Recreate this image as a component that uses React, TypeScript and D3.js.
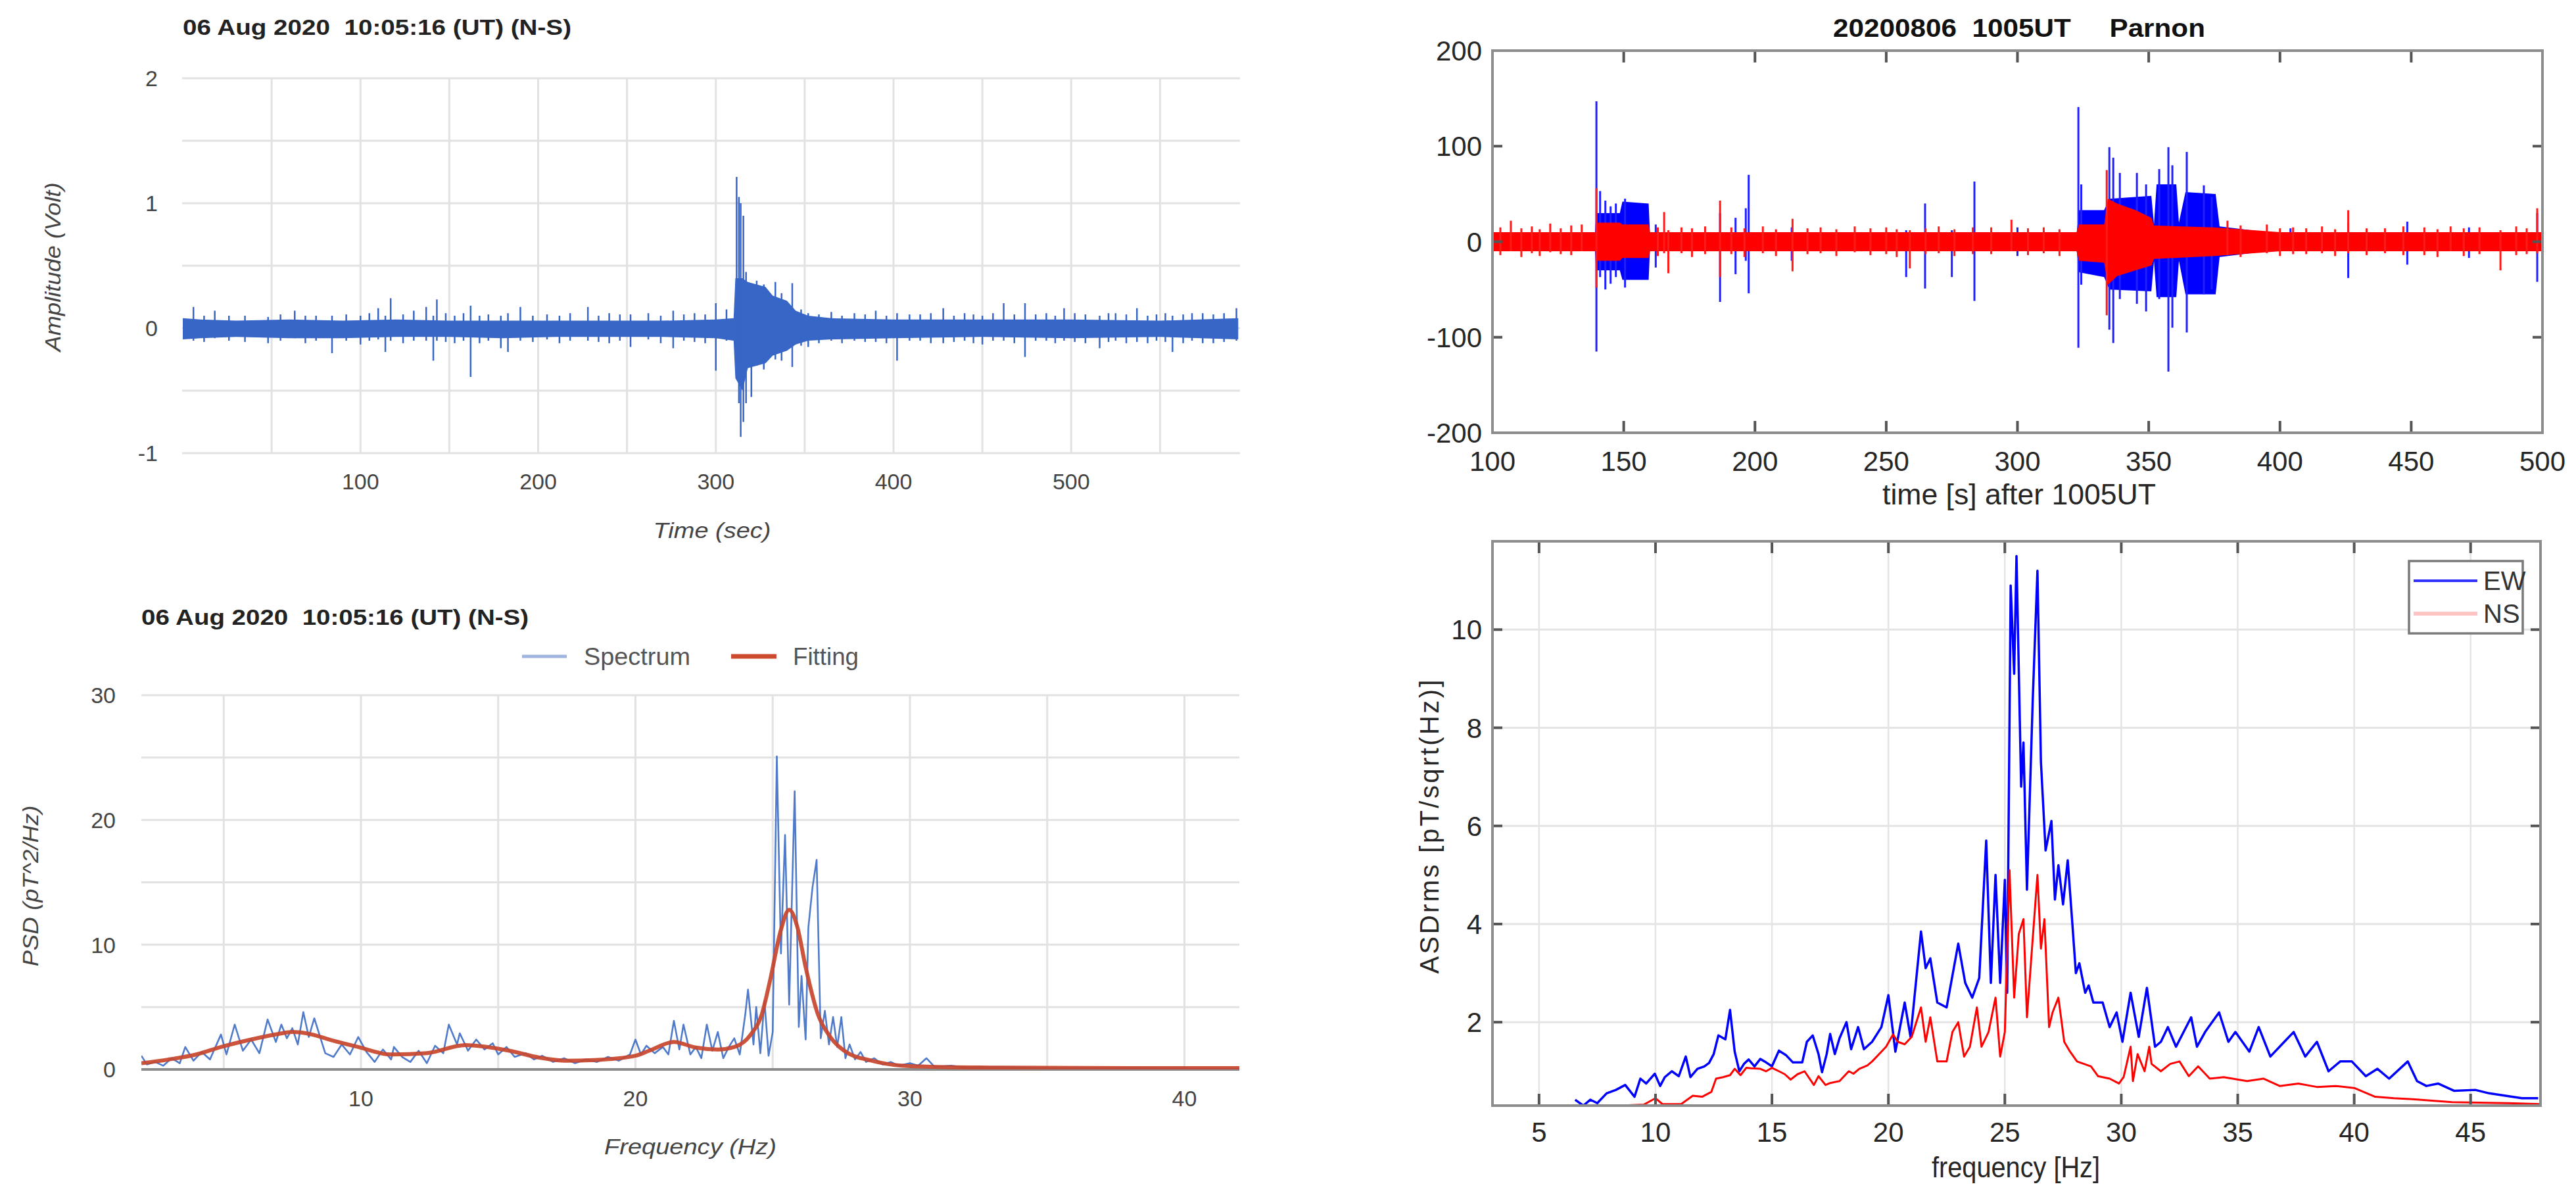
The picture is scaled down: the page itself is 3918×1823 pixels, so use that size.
import * as d3 from "d3";

// ---------- top left: N-S amplitude (Volt) ----------
// [t, hi, lo] envelope of the dense trace
const amplitudeBand: [number, number, number][] = [
  [0, 0.08, -0.09], [10, 0.07, -0.08], [30, 0.06, -0.07], [60, 0.07, -0.08], [90, 0.06, -0.08],
  [120, 0.07, -0.07], [150, 0.06, -0.07], [180, 0.06, -0.08], [210, 0.06, -0.07], [240, 0.06, -0.07],
  [270, 0.06, -0.07], [300, 0.07, -0.08], [310, 0.08, -0.1], [311, 0.4, -0.4], [315, 0.4, -0.5],
  [318, 0.37, -0.32], [328, 0.33, -0.28], [332, 0.26, -0.22], [340, 0.22, -0.18], [345, 0.14, -0.13],
  [352, 0.1, -0.1], [365, 0.08, -0.09], [400, 0.07, -0.08], [450, 0.07, -0.07], [500, 0.07, -0.08],
  [550, 0.06, -0.07], [594, 0.08, -0.09],
];
// [t, hi, lo] single excursions
const amplitudeSpikes: [number, number, number][] = [
  [6, 0.17, -0.1], [12, 0.1, -0.11], [18, 0.14, -0.08], [26, 0.1, -0.1], [35, 0.1, -0.11],
  [48, 0.09, -0.12], [55, 0.11, -0.1], [63, 0.14, -0.08], [69, 0.1, -0.12], [75, 0.1, -0.1],
  [84, 0.1, -0.2], [92, 0.11, -0.1], [100, 0.1, -0.13], [105, 0.12, -0.1], [110, 0.16, -0.09],
  [114, 0.1, -0.19], [117, 0.24, -0.1], [124, 0.11, -0.12], [130, 0.14, -0.1], [137, 0.17, -0.1],
  [141, 0.1, -0.26], [143, 0.23, -0.1], [148, 0.12, -0.11], [153, 0.1, -0.12], [158, 0.12, -0.1],
  [162, 0.18, -0.39], [167, 0.1, -0.12], [172, 0.11, -0.1], [179, 0.1, -0.16], [183, 0.12, -0.19],
  [190, 0.17, -0.1], [197, 0.1, -0.11], [205, 0.11, -0.09], [212, 0.1, -0.12], [218, 0.12, -0.1],
  [228, 0.17, -0.1], [234, 0.1, -0.11], [240, 0.12, -0.12], [246, 0.11, -0.1], [252, 0.11, -0.15],
  [262, 0.12, -0.09], [269, 0.1, -0.12], [276, 0.14, -0.16], [282, 0.11, -0.1], [288, 0.12, -0.11],
  [294, 0.11, -0.12], [300, 0.2, -0.34], [306, 0.15, -0.1], [311.7, 1.21, -0.3], [313, 1.05, -0.6],
  [314, 1.0, -0.87], [315.5, 0.9, -0.75], [317, 0.45, -0.6], [320, 0.3, -0.55], [323, 0.38, -0.3],
  [327, 0.35, -0.33], [333.5, 0.37, -0.25], [337, 0.28, -0.26], [343, 0.36, -0.31], [348, 0.15, -0.14],
  [352, 0.12, -0.15], [358, 0.11, -0.12], [365, 0.13, -0.1], [371, 0.1, -0.12], [378, 0.12, -0.1],
  [384, 0.11, -0.11], [390, 0.14, -0.11], [396, 0.1, -0.12], [402, 0.12, -0.26], [409, 0.11, -0.1],
  [415, 0.11, -0.1], [421, 0.12, -0.12], [428, 0.16, -0.12], [434, 0.1, -0.11], [440, 0.12, -0.1],
  [445, 0.11, -0.12], [450, 0.1, -0.13], [456, 0.12, -0.1], [462, 0.2, -0.1], [468, 0.11, -0.12],
  [474, 0.2, -0.23], [480, 0.11, -0.1], [486, 0.12, -0.1], [491, 0.1, -0.12], [496, 0.16, -0.1],
  [502, 0.12, -0.11], [508, 0.11, -0.12], [516, 0.1, -0.16], [521, 0.12, -0.11], [525, 0.12, -0.1],
  [531, 0.11, -0.12], [537, 0.16, -0.11], [543, 0.1, -0.12], [548, 0.11, -0.1], [553, 0.12, -0.11],
  [557, 0.1, -0.19], [563, 0.11, -0.12], [568, 0.12, -0.1], [574, 0.12, -0.12], [580, 0.11, -0.12],
  [586, 0.12, -0.11], [593, 0.16, -0.1],
];
const amplitudeYTicks = [-1, 0, 1, 2];
const amplitudeYGrid = [-1, -0.5, 0, 0.5, 1, 1.5, 2];
const amplitudeXTicks = [100, 200, 300, 400, 500];
const amplitudeXGrid = [50, 100, 150, 200, 250, 300, 350, 400, 450, 500, 550];

// ---------- bottom left: PSD spectrum + fitting ----------
const spectrum: [number, number][] = [
  [2.0, 1.1], [2.2, 0.4], [2.5, 0.6], [2.8, 0.3], [3.1, 0.9], [3.4, 0.5], [3.6, 1.8], [3.9, 0.7],
  [4.2, 1.4], [4.5, 0.8], [4.9, 2.8], [5.1, 1.2], [5.4, 3.6], [5.7, 1.5], [6.0, 2.4], [6.3, 1.3],
  [6.6, 4.0], [6.9, 2.2], [7.1, 3.6], [7.3, 2.5], [7.5, 3.3], [7.7, 2.0], [7.9, 4.6], [8.1, 2.6],
  [8.3, 4.1], [8.6, 2.0], [8.7, 1.3], [9.0, 1.0], [9.3, 2.0], [9.6, 1.2], [9.9, 2.6], [10.2, 1.4],
  [10.5, 0.6], [10.8, 1.6], [11.1, 0.8], [11.2, 1.8], [11.5, 1.0], [11.8, 0.6], [12.1, 1.5], [12.4, 0.5],
  [12.7, 1.9], [13.0, 1.3], [13.2, 3.6], [13.5, 2.0], [13.6, 2.9], [13.9, 1.5], [14.2, 2.4], [14.5, 1.6],
  [14.8, 2.1], [15.0, 1.2], [15.3, 1.8], [15.6, 1.0], [16.0, 1.3], [16.3, 0.8], [16.6, 1.1], [17.0, 0.6],
  [17.4, 0.9], [17.8, 0.5], [18.2, 0.8], [18.6, 0.6], [19.0, 1.0], [19.4, 0.7], [19.8, 1.2], [20.0, 2.4],
  [20.2, 1.2], [20.4, 1.9], [20.7, 1.3], [21.0, 1.8], [21.2, 1.2], [21.4, 3.9], [21.6, 1.6], [21.75, 3.6],
  [22.0, 1.2], [22.2, 1.8], [22.4, 0.9], [22.6, 3.6], [22.8, 1.5], [23.0, 3.0], [23.2, 0.9], [23.4, 1.8],
  [23.6, 2.5], [23.8, 1.2], [24.0, 4.4], [24.1, 6.4], [24.3, 2.0], [24.4, 5.0], [24.55, 1.3], [24.7, 5.5],
  [24.85, 1.1], [25.0, 3.0], [25.15, 25.1], [25.3, 9.3], [25.45, 18.8], [25.6, 5.2], [25.8, 22.3],
  [25.95, 3.4], [26.05, 7.5], [26.2, 2.4], [26.3, 11.4], [26.45, 14.6], [26.6, 16.8], [26.75, 2.5],
  [26.9, 4.7], [27.05, 2.0], [27.2, 4.2], [27.35, 1.8], [27.5, 4.2], [27.65, 0.9], [27.8, 2.0], [28.0, 0.8],
  [28.2, 1.4], [28.4, 0.6], [28.7, 0.9], [29.0, 0.4], [29.3, 0.6], [29.6, 0.3], [30.0, 0.5], [30.3, 0.3],
  [30.6, 0.9], [30.9, 0.2], [31.5, 0.3], [32, 0.15], [33, 0.2], [35, 0.1], [38, 0.1], [42, 0.05],
];
const fitting: [number, number][] = [
  [2, 0.5], [3, 0.8], [4, 1.2], [4.9, 1.8], [6, 2.4], [7, 2.85], [7.5, 3.0], [8, 2.9], [9, 2.3],
  [9.9, 1.8], [11.1, 1.2], [12.4, 1.3], [13.8, 1.95], [15.4, 1.5], [16.5, 0.95], [17.5, 0.7],
  [18.5, 0.75], [20.0, 1.1], [20.5, 1.5], [21.4, 2.2], [22.2, 1.75], [23.0, 1.6], [23.6, 1.8],
  [24.2, 2.8], [24.6, 4.4], [24.9, 7.1], [25.3, 11.2], [25.6, 12.8], [25.9, 11.4], [26.2, 8.2],
  [26.65, 4.4], [27.1, 2.6], [27.6, 1.5], [28.6, 0.7], [29.7, 0.3], [31, 0.2], [33, 0.15], [38, 0.1],
  [42, 0.1],
];
const psdYTicks = [0, 10, 20, 30];
const psdYGrid = [0, 5, 10, 15, 20, 25, 30];
const psdXTicks = [10, 20, 30, 40];
const psdXGrid = [5, 10, 15, 20, 25, 30, 35, 40];

// ---------- top right: Parnon EW / NS time series ----------
const ewBand: [number, number, number][] = [
  [100, 8, -8], [139, 8, -8], [139.5, 30, -30], [148.5, 30, -30], [149.5, 42, -40], [159.5, 40, -40],
  [160, 8, -8], [322.5, 8, -8], [323.5, 33, -32], [333, 33, -37], [335, 45, -50], [351, 48, -52],
  [352, 18, -20], [353, 60, -58], [360.5, 60, -58], [361.5, 20, -20], [364, 52, -55], [375.5, 50, -55],
  [377, 16, -16], [392, 11, -11], [400, 8, -8], [500, 8, -8],
];
const ewSpikes: [number, number, number][] = [
  [139.6, 147, -115], [141, 53, -37], [143, 43, -50], [145, 37, -44], [147, 40, -37], [150.5, 45, -48],
  [162.2, 18, -27], [186.7, 30, -63], [192.6, 25, -34], [196.5, 35, -20], [197.6, 70, -54],
  [214, 15, -20], [257.6, 12, -37], [264.8, 40, -49], [275, 12, -37], [283.6, 63, -62], [300, 15, -15],
  [323.2, 141, -111], [324.3, 60, -45], [335, 99, -92], [336.5, 88, -106], [339, 72, -60],
  [345.5, 72, -65], [349, 60, -73], [354, 76, -60], [357.5, 99, -136], [359, 80, -90],
  [364.5, 94, -95], [371, 59, -55], [374, 47, -50], [404, 14, -10], [426, 20, -38], [448.5, 21, -24],
  [472, 15, -17], [498, 30, -42],
];
const nsBand: [number, number, number][] = [
  [100, 10, -10], [139.5, 10, -10], [140, 20, -20], [148.5, 20, -20], [149.5, 18, -17], [159.5, 18, -17],
  [160, 10, -10], [322.5, 10, -10], [323.5, 18, -20], [333, 18, -22], [334.5, 45, -45], [338, 40, -36],
  [345, 33, -30], [351, 25, -25], [352, 17, -18], [375, 15, -15], [390, 12, -12], [400, 10, -10],
  [500, 10, -10],
];
const nsSpikes: [number, number, number][] = [
  [103, 15, -14], [107, 22, -10], [111, 14, -16], [115, 16, -12], [118, 13, -15], [122, 19, -11],
  [126, 14, -13], [130, 17, -14], [134, 18, -10], [139.6, 56, -48], [163, 15, -15], [165.4, 31, -12],
  [167, 12, -33], [172, 15, -12], [176, 14, -16], [181, 16, -13], [186.7, 43, -37], [191, 15, -13],
  [196, 14, -16], [203, 16, -12], [208, 13, -15], [214.3, 24, -31], [220, 14, -13], [225, 15, -12],
  [231, 13, -15], [238, 16, -11], [244, 14, -14], [250, 15, -13], [254, 13, -16], [259, 12, -28],
  [265, 14, -13], [270, 16, -12], [276, 13, -15], [283, 15, -13], [290, 15, -13], [297.7, 23, -10],
  [304, 14, -14], [310, 15, -12], [316, 13, -15], [334, 75, -77], [380, 22, -14], [385, 17, -16],
  [395, 18, -12], [400, 14, -15], [405, 15, -13], [410, 14, -13], [416, 16, -12], [421, 13, -15],
  [426, 33, -12], [433, 14, -14], [440, 14, -12], [447, 16, -14], [455, 15, -14], [460, 13, -16],
  [465, 16, -10], [470, 14, -15], [476, 15, -13], [484, 12, -30], [490, 16, -14], [494, 14, -13],
  [498, 35, -12],
];
const parnonXTicks = [100, 150, 200, 250, 300, 350, 400, 450, 500];
const parnonYTicks = [-200, -100, 0, 100, 200];

// ---------- bottom right: ASDrms EW / NS ----------
const asdEW: [number, number][] = [
  [6.55, 0.42], [6.9, 0.3], [7.2, 0.42], [7.5, 0.35], [7.9, 0.55], [8.3, 0.62], [8.7, 0.72], [9.1, 0.48],
  [9.35, 0.85], [9.6, 0.75], [9.97, 0.95], [10.2, 0.7], [10.4, 0.88], [10.7, 1.0], [11.0, 0.9],
  [11.3, 1.3], [11.5, 0.88], [11.8, 1.05], [12.1, 1.1], [12.3, 1.17], [12.5, 1.35], [12.7, 1.73],
  [13.0, 1.65], [13.2, 2.25], [13.4, 1.4], [13.6, 1.0], [13.8, 1.15], [14.0, 1.24], [14.25, 1.1],
  [14.5, 1.25], [14.75, 1.18], [15.0, 1.1], [15.3, 1.42], [15.6, 1.33], [15.9, 1.18], [16.3, 1.18],
  [16.5, 1.6], [16.75, 1.73], [17.0, 1.35], [17.15, 0.98], [17.35, 1.35], [17.5, 1.76], [17.7, 1.35],
  [17.9, 1.67], [18.2, 2.0], [18.4, 1.45], [18.7, 1.9], [18.95, 1.45], [19.3, 1.6], [19.7, 1.9],
  [20.0, 2.55], [20.3, 1.4], [20.7, 2.4], [20.95, 1.7], [21.4, 3.85], [21.6, 3.1], [21.8, 3.3],
  [22.1, 2.4], [22.5, 2.3], [23.0, 3.6], [23.3, 2.8], [23.6, 2.5], [23.9, 2.9], [24.2, 5.7], [24.4, 2.8],
  [24.6, 5.0], [24.8, 2.8], [25.0, 4.9], [25.1, 2.6], [25.25, 10.9], [25.4, 9.1], [25.5, 11.5],
  [25.7, 6.8], [25.8, 7.7], [25.95, 4.7], [26.2, 8.6], [26.4, 11.2], [26.55, 7.3], [26.75, 5.5],
  [27.0, 6.1], [27.15, 4.5], [27.3, 5.2], [27.5, 4.4], [27.7, 5.3], [27.9, 4.0], [28.05, 3.0],
  [28.2, 3.2], [28.45, 2.6], [28.6, 2.75], [28.8, 2.4], [29.2, 2.4], [29.5, 1.9], [29.8, 2.2],
  [30.05, 1.6], [30.4, 2.6], [30.75, 1.7], [31.1, 2.7], [31.45, 1.5], [31.7, 1.6], [32.0, 1.9],
  [32.35, 1.5], [33.0, 2.1], [33.25, 1.5], [33.6, 1.8], [34.2, 2.2], [34.6, 1.6], [34.9, 1.8],
  [35.5, 1.4], [35.9, 1.9], [36.4, 1.3], [37.0, 1.6], [37.4, 1.8], [37.9, 1.3], [38.4, 1.6],
  [38.9, 1.0], [39.4, 1.2], [39.9, 1.2], [40.5, 0.9], [41.0, 1.05], [41.5, 0.85], [42.3, 1.2],
  [42.7, 0.8], [43.1, 0.7], [43.6, 0.75], [44.3, 0.6], [45.2, 0.62], [45.8, 0.55], [46.5, 0.5],
  [47.2, 0.45], [47.9, 0.45],
];
const asdNS: [number, number][] = [
  [7.5, 0.3], [8.5, 0.3], [9.5, 0.32], [10.0, 0.45], [10.3, 0.33], [11.1, 0.33], [11.6, 0.5],
  [12.0, 0.48], [12.4, 0.58], [12.6, 0.85], [12.9, 0.88], [13.2, 0.92], [13.4, 1.05], [13.65, 0.92],
  [13.9, 1.07], [14.1, 1.06], [14.5, 1.05], [14.75, 1.0], [15.0, 1.07], [15.3, 1.0], [15.55, 0.94],
  [15.8, 0.83], [16.1, 0.94], [16.4, 1.0], [16.8, 0.72], [17.0, 0.9], [17.3, 0.72], [17.5, 0.76],
  [17.9, 0.8], [18.3, 1.0], [18.5, 0.95], [18.75, 1.05], [19.1, 1.12], [19.3, 1.2], [19.6, 1.35],
  [19.9, 1.5], [20.2, 1.75], [20.4, 1.6], [20.7, 1.55], [21.0, 1.7], [21.4, 2.3], [21.6, 1.6],
  [21.8, 2.1], [22.1, 1.2], [22.5, 1.2], [22.75, 1.8], [23.0, 2.0], [23.25, 1.3], [23.5, 1.5],
  [23.8, 2.3], [24.0, 1.5], [24.3, 1.8], [24.6, 2.5], [24.8, 1.3], [25.0, 1.8], [25.2, 5.1], [25.4, 2.5],
  [25.6, 3.8], [25.8, 4.1], [25.95, 2.1], [26.15, 3.4], [26.4, 5.0], [26.55, 3.5], [26.7, 4.1],
  [26.9, 1.9], [27.05, 2.2], [27.3, 2.5], [27.55, 1.6], [27.8, 1.4], [28.1, 1.2], [28.7, 1.1],
  [29.0, 0.9], [29.5, 0.85], [29.9, 0.75], [30.1, 0.88], [30.4, 1.5], [30.5, 0.8], [30.7, 1.35],
  [31.0, 1.0], [31.2, 1.5], [31.3, 1.15], [31.7, 1.0], [32.1, 1.15], [32.5, 1.2], [32.9, 0.9],
  [33.3, 1.1], [33.8, 0.85], [34.4, 0.88], [35.4, 0.8], [36.1, 0.85], [36.8, 0.7], [37.6, 0.75],
  [38.4, 0.68], [39.2, 0.7], [40.0, 0.66], [40.9, 0.48], [41.7, 0.45], [42.5, 0.43], [44.2, 0.37],
  [46.6, 0.35], [48, 0.33],
];
const asdXTicks = [5, 10, 15, 20, 25, 30, 35, 40, 45];
const asdYTicks = [2, 4, 6, 8, 10];

const gFont = "'Liberation Sans', Arial, sans-serif";
const mFont = "'Liberation Sans Narrow', 'Liberation Sans', Arial, sans-serif";
const pre = { whiteSpace: "pre" as const };

export default function App() {
  // scales
  const ampX = d3.scaleLinear().domain([0, 595]).range([278, 1886]);
  const ampY = d3.scaleLinear().domain([-1, 2]).range([689, 119]);
  const psdX = d3.scaleLinear().domain([2, 42]).range([215, 1885]);
  const psdY = d3.scaleLinear().domain([0, 30]).range([1626, 1057]);
  const parX = d3.scaleLinear().domain([100, 500]).range([2270, 3867]);
  const parY = d3.scaleLinear().domain([-200, 200]).range([658, 77]);
  const asdX = d3.scaleLinear().domain([3, 48]).range([2270, 3864]);
  const asdY = d3.scaleLinear().domain([0.3, 11.8]).range([1681, 823]);

  const band = (x: d3.ScaleLinear<number, number>, y: d3.ScaleLinear<number, number>) =>
    d3.area<[number, number, number]>().x(d => x(d[0])).y0(d => y(d[2])).y1(d => y(d[1]));
  const line = (x: d3.ScaleLinear<number, number>, y: d3.ScaleLinear<number, number>, curve = d3.curveLinear) =>
    d3.line<[number, number]>().x(d => x(d[0])).y(d => y(d[1])).curve(curve);

  const spikes = (data: [number, number, number][], x: any, y: any, color: string, w: number) =>
    data.map((d, i) => (
      <line key={i} x1={x(d[0])} x2={x(d[0])} y1={y(d[2])} y2={y(d[1])} stroke={color} strokeWidth={w} />
    ));

  const [ax0, ax1] = ampX.range();
  const [py0, py1] = psdY.range();
  const [px0, px1] = psdX.range();

  return (
    <svg width={3918} height={1823} style={{ position: "absolute", left: 0, top: 0, background: "#fff" }}>
      <defs>
        <clipPath id="clipPar"><rect x={2270} y={77} width={1597} height={581} /></clipPath>
        <clipPath id="clipAsd"><rect x={2270} y={823} width={1594} height={858} /></clipPath>
        <clipPath id="clipPsd"><rect x={215} y={1040} width={1670} height={586} /></clipPath>
      </defs>

      {/* ===== top left ===== */}
      <text x={278} y={53} fontFamily={gFont} fontWeight="bold" fontSize={34} fill="#222" style={pre}
        textLength={591} lengthAdjust="spacingAndGlyphs">06 Aug 2020  10:05:16 (UT) (N-S)</text>
      {amplitudeYGrid.map(v => (
        <line key={v} x1={ax0 - 1} x2={ax1} y1={ampY(v)} y2={ampY(v)} stroke="#e2e2e2" strokeWidth={3} />
      ))}
      {amplitudeXGrid.map(v => (
        <line key={v} x1={ampX(v)} x2={ampX(v)} y1={ampY(2)} y2={ampY(-1)} stroke="#e2e2e2" strokeWidth={3} />
      ))}
      <path d={band(ampX, ampY)(amplitudeBand) || ""} fill="#3766c6" />
      {spikes(amplitudeSpikes, ampX, ampY, "#3766c6", 2.5)}
      {amplitudeYTicks.map(v => (
        <text key={v} x={240} y={ampY(v)} dy="0.36em" textAnchor="end" fontFamily={gFont} fontSize={34} fill="#444">{v}</text>
      ))}
      {amplitudeXTicks.map(v => (
        <text key={v} x={ampX(v)} y={744} textAnchor="middle" fontFamily={gFont} fontSize={34} fill="#444">{v}</text>
      ))}
      <text x={1083} y={818} textAnchor="middle" fontFamily={gFont} fontStyle="italic" fontSize={33} fill="#444"
        textLength={179} lengthAdjust="spacingAndGlyphs">Time (sec)</text>
      <text transform="translate(92,406) rotate(-90)" textAnchor="middle" fontFamily={gFont} fontStyle="italic"
        fontSize={33} fill="#444" textLength={257} lengthAdjust="spacingAndGlyphs">Amplitude (Volt)</text>

      {/* ===== bottom left ===== */}
      <text x={215} y={950} fontFamily={gFont} fontWeight="bold" fontSize={34} fill="#222" style={pre}
        textLength={589} lengthAdjust="spacingAndGlyphs">06 Aug 2020  10:05:16 (UT) (N-S)</text>
      <line x1={794} x2={862} y1={998} y2={998} stroke="#9fb5e0" strokeWidth={5} />
      <text x={888} y={1011} fontFamily={gFont} fontSize={36} fill="#555" textLength={162} lengthAdjust="spacingAndGlyphs">Spectrum</text>
      <line x1={1112} x2={1181} y1={998} y2={998} stroke="#cc4a2e" strokeWidth={7} />
      <text x={1206} y={1011} fontFamily={gFont} fontSize={36} fill="#555" textLength={100} lengthAdjust="spacingAndGlyphs">Fitting</text>
      {psdYGrid.map(v => (
        <line key={v} x1={px0} x2={px1} y1={psdY(v)} y2={psdY(v)} stroke="#e2e2e2" strokeWidth={3} />
      ))}
      {psdXGrid.map(v => (
        <line key={v} x1={psdX(v)} x2={psdX(v)} y1={py1} y2={py0} stroke="#e2e2e2" strokeWidth={3} />
      ))}
      <line x1={px0} x2={px1} y1={psdY(0)} y2={psdY(0)} stroke="#8a8a8a" strokeWidth={4} />
      <g clipPath="url(#clipPsd)">
        <path d={line(psdX, psdY)(spectrum) || ""} fill="none" stroke="#3d6cc4" strokeWidth={2.6} strokeOpacity={0.9} strokeLinejoin="round" />
        <path d={line(psdX, psdY, d3.curveMonotoneX)(fitting) || ""} fill="none" stroke="#c8452c" strokeWidth={6} strokeOpacity={0.92} />
      </g>
      {psdYTicks.map(v => (
        <text key={v} x={176} y={psdY(v)} dy="0.36em" textAnchor="end" fontFamily={gFont} fontSize={34} fill="#444">{v}</text>
      ))}
      {psdXTicks.map(v => (
        <text key={v} x={psdX(v)} y={1682} textAnchor="middle" fontFamily={gFont} fontSize={34} fill="#444">{v}</text>
      ))}
      <text x={1050} y={1755} textAnchor="middle" fontFamily={gFont} fontStyle="italic" fontSize={33} fill="#444"
        textLength={262} lengthAdjust="spacingAndGlyphs">Frequency (Hz)</text>
      <text transform="translate(58,1347) rotate(-90)" textAnchor="middle" fontFamily={gFont} fontStyle="italic"
        fontSize={33} fill="#444" textLength={245} lengthAdjust="spacingAndGlyphs">PSD (pT^2/Hz)</text>

      {/* ===== top right ===== */}
      <text x={3071} y={56} textAnchor="middle" fontFamily={mFont} fontWeight="bold" fontSize={38} fill="#111" style={pre}
        textLength={566} lengthAdjust="spacingAndGlyphs">20200806  1005UT     Parnon</text>
      <g clipPath="url(#clipPar)">
        <path d={band(parX, parY)(ewBand) || ""} fill="#0000ff" />
        {spikes(ewSpikes, parX, parY, "#2020ff", 3)}
        <path d={band(parX, parY)(nsBand) || ""} fill="#ff0000" />
        {spikes(nsSpikes, parX, parY, "#ff1a1a", 3)}
      </g>
      {parnonXTicks.slice(1, -1).map(v => (
        <g key={v} stroke="#555" strokeWidth={4}>
          <line x1={parX(v)} x2={parX(v)} y1={658} y2={640} />
          <line x1={parX(v)} x2={parX(v)} y1={77} y2={95} />
        </g>
      ))}
      {parnonYTicks.slice(1, -1).map(v => (
        <g key={v} stroke="#555" strokeWidth={4}>
          <line x1={2270} x2={2285} y1={parY(v)} y2={parY(v)} />
          <line x1={3867} x2={3852} y1={parY(v)} y2={parY(v)} />
        </g>
      ))}
      <rect x={2270} y={77} width={1597} height={581} fill="none" stroke="#8c8c8c" strokeWidth={4} />
      {parnonYTicks.map(v => (
        <text key={v} x={2254} y={parY(v)} dy="0.36em" textAnchor="end" fontFamily={mFont} fontSize={42} fill="#262626">{v}</text>
      ))}
      {parnonXTicks.map(v => (
        <text key={v} x={parX(v)} y={716} textAnchor="middle" fontFamily={mFont} fontSize={42} fill="#262626">{v}</text>
      ))}
      <text x={3071} y={767} textAnchor="middle" fontFamily={mFont} fontSize={44} fill="#262626"
        textLength={416} lengthAdjust="spacingAndGlyphs">time [s] after 1005UT</text>

      {/* ===== bottom right ===== */}
      {asdXTicks.map(v => (
        <line key={v} x1={asdX(v)} x2={asdX(v)} y1={823} y2={1681} stroke="#e4e4e4" strokeWidth={2.5} />
      ))}
      {asdYTicks.map(v => (
        <line key={v} x1={2270} x2={3864} y1={asdY(v)} y2={asdY(v)} stroke="#e4e4e4" strokeWidth={3} />
      ))}
      <g clipPath="url(#clipAsd)">
        <path d={line(asdX, asdY)(asdEW) || ""} fill="none" stroke="#0000ff" strokeWidth={3.5} strokeLinejoin="round" />
        <path d={line(asdX, asdY)(asdNS) || ""} fill="none" stroke="#ff0000" strokeWidth={3} strokeLinejoin="round" />
      </g>
      {asdXTicks.map(v => (
        <g key={v} stroke="#555" strokeWidth={4}>
          <line x1={asdX(v)} x2={asdX(v)} y1={1681} y2={1663} />
          <line x1={asdX(v)} x2={asdX(v)} y1={823} y2={841} />
        </g>
      ))}
      {asdYTicks.map(v => (
        <g key={v} stroke="#555" strokeWidth={4}>
          <line x1={2270} x2={2285} y1={asdY(v)} y2={asdY(v)} />
          <line x1={3864} x2={3849} y1={asdY(v)} y2={asdY(v)} />
        </g>
      ))}
      <rect x={2270} y={823} width={1594} height={858} fill="none" stroke="#8c8c8c" strokeWidth={4} />
      {asdYTicks.map(v => (
        <text key={v} x={2254} y={asdY(v)} dy="0.36em" textAnchor="end" fontFamily={mFont} fontSize={42} fill="#262626">{v}</text>
      ))}
      {asdXTicks.map(v => (
        <text key={v} x={asdX(v)} y={1736} textAnchor="middle" fontFamily={mFont} fontSize={42} fill="#262626">{v}</text>
      ))}
      <text x={3066} y={1790} textAnchor="middle" fontFamily={mFont} fontSize={44} fill="#262626"
        textLength={256} lengthAdjust="spacingAndGlyphs">frequency [Hz]</text>
      <text transform="translate(2188,1257) rotate(-90)" textAnchor="middle" fontFamily={mFont} fontSize={40}
        fill="#262626" textLength={447} lengthAdjust="spacing">ASDrms [pT/sqrt(Hz)]</text>
      {/* legend */}
      <rect x={3664} y={853} width={173} height={110} fill="#fff" stroke="#7a7a7a" strokeWidth={3.5} />
      <line x1={3671} x2={3768} y1={883} y2={883} stroke="#3030ff" strokeWidth={4} />
      <line x1={3671} x2={3768} y1={933} y2={933} stroke="#ffc4c4" strokeWidth={6} />
      <text x={3777} y={897} fontFamily={mFont} fontSize={40} fill="#333">EW</text>
      <text x={3777} y={947} fontFamily={mFont} fontSize={40} fill="#333">NS</text>
    </svg>
  );
}
